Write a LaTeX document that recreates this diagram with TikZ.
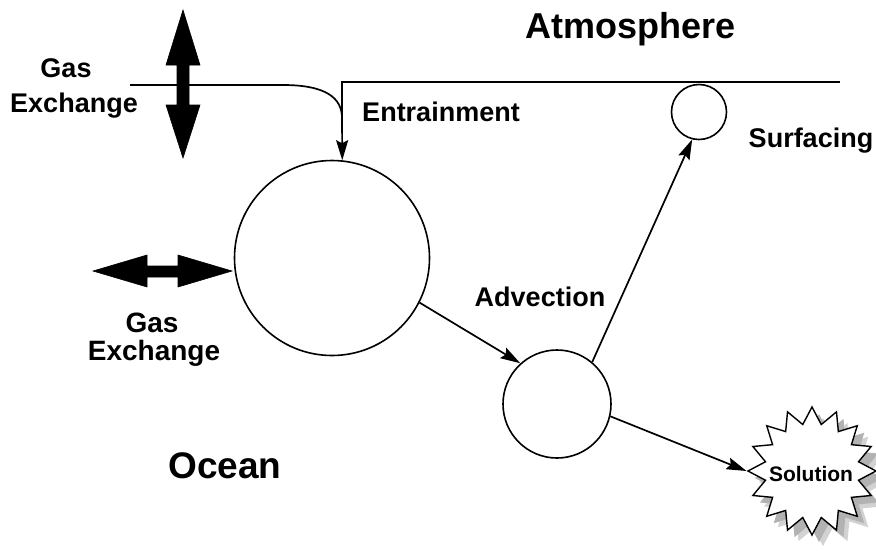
\documentclass[tikz,border=0pt]{standalone}
\usepackage{fontspec}
\setmainfont{Liberation Sans}
\usetikzlibrary{arrows.meta,shapes.geometric}
\tikzset{
  ln/.style={line width=1.7pt},
  arr/.style={line width=1.7pt,-{Stealth[length=20pt,width=12pt,inset=3pt]}},
  bubble/.style={circle,draw,line width=1.6pt,inner sep=0pt,fill=white},
  lbl/.style={font=\bfseries\fontsize{27}{30}\selectfont,inner sep=0pt,anchor=base},
  big lbl/.style={font=\bfseries\fontsize{36}{40}\selectfont,inner sep=0pt,anchor=base},
  starshape/.style={star,star points=16,star point ratio=1.35,minimum size=128pt,inner sep=0pt},
  fatarrow/.style={fill=black,draw=black,line width=0.6pt,line join=miter}
}
\begin{document}
\begin{tikzpicture}[x=1pt,y=-1pt]
\useasboundingbox (0,0) rectangle (876,550);
% surface lines
\coordinate (Ls) at (130,85);
\coordinate (Lc) at (283,85);
\coordinate (Lm) at (342,118);
\coordinate (Re) at (840,82);
\coordinate (Rc) at (342,82);
% bubbles
\node[bubble,minimum size=195pt] (big) at (332,258) {};
\node[bubble,minimum size=108pt] (mid) at (557,404) {};
\node[bubble,minimum size=55pt] (small) at (699,112) {};
% solution star with shadow
\node[starshape,fill=gray!35] (solsh2) at (823,482) {};
\node[starshape,fill=gray!60] (solsh) at (819,478) {};
\node[starshape,draw,fill=white,line width=1.4pt] (sol) at (812,471) {};
\node[font=\bfseries\fontsize{21}{24}\selectfont,inner sep=0pt,anchor=base] (soltxt) at (811,481) {Solution};
% surface and entrainment
\draw[ln] (Re) -- (Rc) -- (Lm);
\draw[arr] (Ls) -- (Lc) .. controls (326,85) and (342,98) .. (Lm) -- (big.84);
% transport arrows
\draw[arr] (big.-27) -- (mid.132);
\draw[arr] (mid.50) -- (small.256);
\draw[arr] (mid.-13) -- (sol.180);
% fat double arrows
\draw[fatarrow] (183,10) -- (200,65) -- (189,65) -- (189,105) -- (200,105) -- (183,158)
  -- (166,105) -- (177,105) -- (177,65) -- (166,65) -- cycle;
\draw[fatarrow] (93,271) -- (147,255) -- (147,266) -- (178,266) -- (178,255) -- (232,271)
  -- (178,287) -- (178,277) -- (147,277) -- (147,287) -- cycle;
% labels
\node[big lbl] (atm) at (631,38) {Atmosphere};
\node[big lbl,font=\bfseries\fontsize{37}{40}\selectfont] (ocean) at (225,478) {Ocean};
\node[lbl] (gas1) at (66,77) {Gas};
\node[lbl] (exch1) at (74,112) {Exchange};
\node[lbl,font=\bfseries\fontsize{28}{30}\selectfont] (gas2) at (152,332) {Gas};
\node[lbl,font=\bfseries\fontsize{28}{30}\selectfont] (exch2) at (154,360) {Exchange};
\node[lbl] (entr) at (441,121) {Entrainment};
\node[lbl] (surf) at (811,147) {Surfacing};
\node[lbl] (adv) at (540,306) {Advection};
\end{tikzpicture}
\end{document}
